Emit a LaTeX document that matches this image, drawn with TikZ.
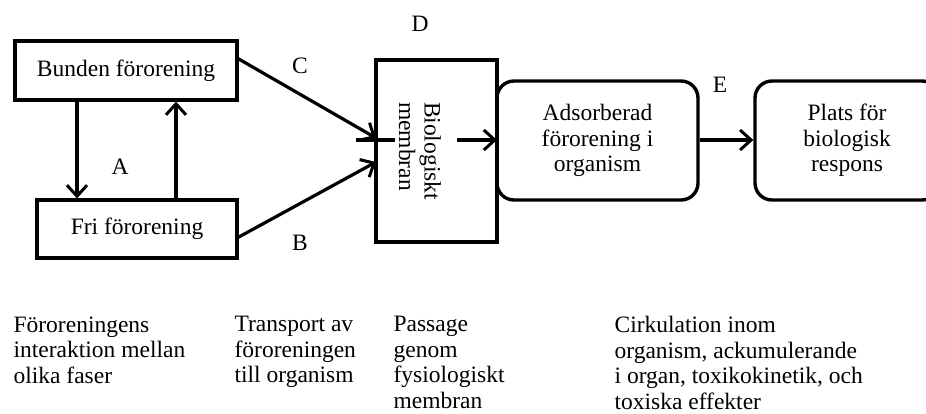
\documentclass[tikz,border=0pt]{standalone}
\usepackage{fontspec}
\setmainfont{Liberation Serif}
\usetikzlibrary{arrows.meta}
\newcommand{\fs}{\fontsize{23.5}{25.5}\selectfont}
\begin{document}
\begin{tikzpicture}[x=1pt,y=-1pt,
  line width=3.2pt,
  every node/.style={font=\fs, inner sep=0pt},
  sqbox/.style={draw, rectangle, line width=3.2pt, align=center},
  rbox/.style={draw, rectangle, rounded corners=17pt, line width=3.4pt, align=center},
  arr/.style={-{Straight Barb[length=11pt,width=20pt,line width=3pt]}, line width=3.2pt},
  note/.style={anchor=north west, align=left}
]
\useasboundingbox (0,0) rectangle (926,413);

% boxes
\node[sqbox, minimum width=222pt, minimum height=59pt] (bund) at (126,70.5) {Bunden förorening};
\node[sqbox, minimum width=200pt, minimum height=58pt] (fri) at (137,229) {Fri förorening};
\node[sqbox, minimum width=121pt, minimum height=182pt] (mem) at (436.5,151) {};
\node[rotate=-90, align=left] (memtxt) at (420,151) {Biologiskt\\membran};
\node[rbox, minimum width=201pt, minimum height=119pt] (ads) at (597.5,140.5) {Adsorberad\\förorening i\\organism};
\node[rbox, minimum width=184pt, minimum height=119pt] (plats) at (847,140.5) {Plats för\\biologisk\\respons};

% labels
\node (lA) at (120,167) {A};
\node (lB) at (300,243) {B};
\node (lC) at (300,66) {C};
\node (lD) at (420,24) {D};
\node (lE) at (720,85) {E};

% coordinates
\coordinate (cstart) at (237,58);
\coordinate (cend) at (376,138);
\coordinate (bstart) at (237,238);
\coordinate (bend) at (376,162);
\coordinate (tickL) at (356,140);
\coordinate (tickR) at (395,140);
\coordinate (inL) at (457,140);
\coordinate (inR) at (497,140);

% connectors
\draw[arr] (bund.south -| 77,0) -- (fri.north -| 77,0);
\draw[arr] (fri.north -| 176,0) -- (bund.south -| 176,0);
\draw[arr] (cstart) -- (cend);
\draw[arr] (bstart) -- (bend);
\draw (tickL) -- (tickR);
\draw[arr] (inL) -- (inR);
\draw[arr] (ads.east |- 0,140) -- (plats.west |- 0,140);

% bottom notes
\node[note] (n1) at (12,315) {Föroreningens\\interaktion mellan\\olika faser};
\node[note] (n2) at (233,315) {Transport av\\föroreningen\\till organism};
\node[note] (n3) at (392,315) {Passage\\genom\\fysiologiskt\\membran};
\node[note] (n4) at (613,315) {Cirkulation inom\\organism, ackumulerande\\i organ, toxikokinetik, och\\toxiska effekter};
\end{tikzpicture}
\end{document}
